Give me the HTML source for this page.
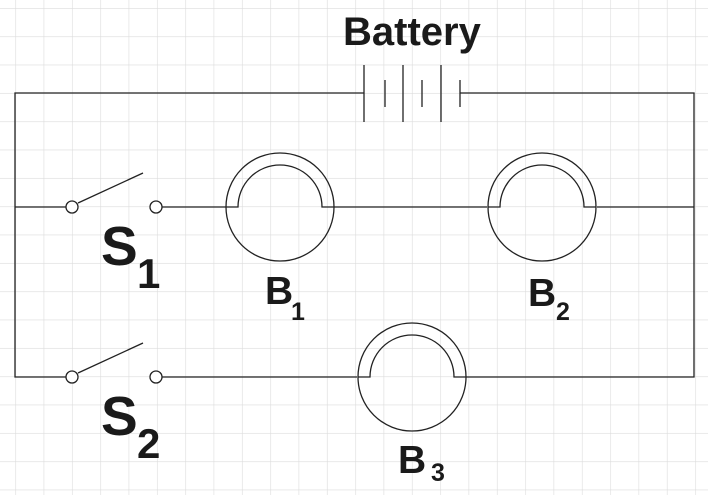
<!DOCTYPE html>
<html><head><meta charset="utf-8"><style>
body{margin:0;background:#fff}
svg{display:block}
text{font-family:"Liberation Sans",Arial,sans-serif;font-weight:bold;fill:#1a1a1a}
</style></head><body>
<svg width="708" height="495" viewBox="0 0 708 495" xmlns="http://www.w3.org/2000/svg">
<defs>
<pattern id="g" x="15.3" y="8" width="28.33" height="28.33" patternUnits="userSpaceOnUse">
<path d="M0 0H28.33M0 0V28.33" stroke="#dcdcdc" stroke-width="1.2" fill="none"/>
</pattern>
</defs>
<rect width="708" height="495" fill="url(#g)"/>
<g stroke="#222" stroke-width="1.3" fill="none">
<!-- outer wires -->
<path d="M364 93H15V377H66M78 377"/>
<path d="M460 93H694V377H466"/>
<path d="M15 207H66M162 207H226M334 207H487M597 207H694"/>
<path d="M162 377H357"/>
<!-- battery -->
<path d="M364 65V122M403 65V122M441 65V122"/>
<path d="M385 80V107M422 80V107M460 80V107"/>
<!-- switches -->
<circle cx="72" cy="207" r="6" fill="#fff"/>
<circle cx="156" cy="207" r="6" fill="#fff"/>
<path d="M78 203L143 173"/>
<circle cx="72" cy="377" r="6" fill="#fff"/>
<circle cx="156" cy="377" r="6" fill="#fff"/>
<path d="M78 373L143 343"/>
<!-- bulbs -->
<circle cx="280" cy="207" r="54"/>
<path d="M226 207H238A42 42 0 0 1 322 207H334"/>
<circle cx="542" cy="207" r="54"/>
<path d="M488 207H500A42 42 0 0 1 584 207H596"/>
<circle cx="412" cy="377" r="54"/>
<path d="M358 377H370A42 42 0 0 1 454 377H466"/>
</g>
<text x="343" y="45" font-size="40">Battery</text>
<text x="101" y="265" font-size="55">S</text>
<text x="137" y="288" font-size="42">1</text>
<text x="101" y="435" font-size="55">S</text>
<text x="137" y="458" font-size="42">2</text>
<text x="265" y="304" font-size="39">B</text>
<text x="291" y="320" font-size="25">1</text>
<text x="528" y="306" font-size="39">B</text>
<text x="556" y="320" font-size="25">2</text>
<text x="398" y="473" font-size="39">B</text>
<text x="431" y="481" font-size="25">3</text>
</svg>
</body></html>
